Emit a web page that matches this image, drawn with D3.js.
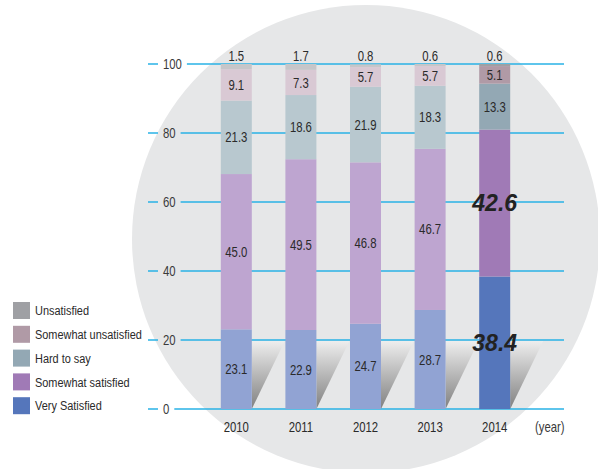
<!DOCTYPE html>
<html><head><meta charset="utf-8">
<script src="https://cdn.jsdelivr.net/npm/d3@7"></script>
<style>
html,body{margin:0;padding:0;background:#fff;}
text{font-family:"Liberation Sans",Arial,sans-serif;}
</style></head>
<body><svg id="c" width="598" height="469"></svg>
<script>
const years = ["2010","2011","2012","2013","2014"];
const seriesNames = ["Very Satisfied","Somewhat satisfied","Hard to say","Somewhat unsatisfied","Unsatisfied"];
const verySatisfied      = [23.1, 22.9, 24.7, 28.7, 38.4];
const somewhatSatisfied  = [45.0, 49.5, 46.8, 46.7, 42.6];
const hardToSay          = [21.3, 18.6, 21.9, 18.3, 13.3];
const somewhatUnsatisfied= [9.1, 7.3, 5.7, 5.7, 5.1];
const unsatisfied        = [1.5, 1.7, 0.8, 0.6, 0.6];
const yTicks = [0, 20, 40, 60, 80, 100];

const lightColors = ["#91a3d3","#bea5d0","#b8c8cf","#d9c9d4","#c6c6c9"];
const darkColors  = ["#5576bb","#a07ab6","#93a8b4","#b09aa6","#9fa0a4"];

const SX = 0.81;
function ntext(parent, x, y, str, anchor, size, fill, dy) {
  return parent.append("text")
    .attr("transform", `translate(${x},${y}) scale(${SX},1)`)
    .attr("text-anchor", anchor).attr("dy", dy || 0)
    .attr("font-size", size).attr("fill", fill).text(str);
}

const svg = d3.select("#c");
const values = [verySatisfied, somewhatSatisfied, hardToSay, somewhatUnsatisfied, unsatisfied];

// background circle
svg.append("circle").attr("cx",366).attr("cy",239).attr("r",234).attr("fill","#e6e7e8");

const x = d3.scaleBand().domain(years).range([204, 527]).paddingInner(0.52).paddingOuter(0.26);
const y = d3.scaleLinear().domain([0,100]).range([409, 64]);

// shadows
const defs = svg.append("defs");
const grad = defs.append("linearGradient").attr("id","sh").attr("x1",0).attr("y1",0).attr("x2",0).attr("y2",1);
grad.append("stop").attr("offset","0").attr("stop-color","#eeeeee");
grad.append("stop").attr("offset","1").attr("stop-color","#808080");
svg.append("g").selectAll("path").data(years).join("path")
  .attr("d", d => {
    const r = x(d) + x.bandwidth();
    return `M${r},${y(20)+1}L${r+33},${y(20)+1}L${r},${y(0)}Z`;
  })
  .attr("fill","url(#sh)");

// gridlines + ticks
const tickG = svg.append("g");
yTicks.forEach(t => {
  const yy = y(t);
  const lbl = ntext(tickG, 163, yy, t, "start", 14, "#3a3a3a", "0.35em");
  const w = lbl.node().getComputedTextLength() * SX;
  tickG.append("line").attr("x1",148).attr("x2",158).attr("y1",yy).attr("y2",yy)
    .attr("stroke","#29b2e6").attr("stroke-width",1.5);
  tickG.append("line").attr("x1",163+w+5).attr("x2",564).attr("y1",yy).attr("y2",yy)
    .attr("stroke","#29b2e6").attr("stroke-width",1.5);
});

// stacked data
const rows = years.map((yr,i) => {
  const o = {year: yr};
  seriesNames.forEach((s,k) => o[s] = values[k][i]);
  return o;
});
const stack = d3.stack().keys(seriesNames)(rows);

const barsG = svg.append("g");
stack.forEach((layer,k) => {
  barsG.selectAll(null).data(layer).join("rect")
    .attr("x", d => x(d.data.year))
    .attr("width", x.bandwidth())
    .attr("y", d => y(Math.min(d[1],100)))
    .attr("height", d => y(d[0]) - y(Math.min(d[1],100)))
    .attr("fill", d => d.data.year === "2014" ? darkColors[k] : lightColors[k]);
});

// labels
const labG = svg.append("g");
stack.forEach((layer,k) => {
  layer.forEach(d => {
    const v = d.data[seriesNames[k]];
    const cx = x(d.data.year) + x.bandwidth()/2;
    const is14 = d.data.year === "2014";
    if (k === 4) {
      ntext(labG, cx, y(100)-3, v.toFixed(1), "middle", 14, "#2a2a2a");
    } else if (is14 && k < 2) {
      labG.append("text").attr("x",cx).attr("y",y((d[0]+d[1])/2)).attr("dy","0.36em")
        .attr("text-anchor","middle").attr("font-size",23).attr("font-weight","bold")
        .attr("font-style","italic")
        .attr("fill","#222").text(v.toFixed(1));
    } else {
      ntext(labG, cx, y((d[0]+d[1])/2), v.toFixed(1), "middle", 14, "#2a2a2a", "0.36em");
    }
  });
});

// x labels
const xl = svg.append("g");
years.forEach(d => ntext(xl, x(d) + x.bandwidth()/2, 432, d, "middle", 14, "#2a2a2a"));
ntext(svg, 535, 432, "(year)", "start", 14, "#3a3a3a");

// legend
const legendOrder = [4,3,2,1,0];
const lg = svg.append("g");
legendOrder.forEach((k,i) => {
  const yy = 302 + i*23.8;
  lg.append("rect").attr("x",13).attr("y",yy).attr("width",17).attr("height",17).attr("fill",darkColors[k]);
  ntext(lg, 35, yy+8.5, seriesNames[k], "start", 13.5, "#2a2a2a", "0.35em");
});
</script></body></html>
